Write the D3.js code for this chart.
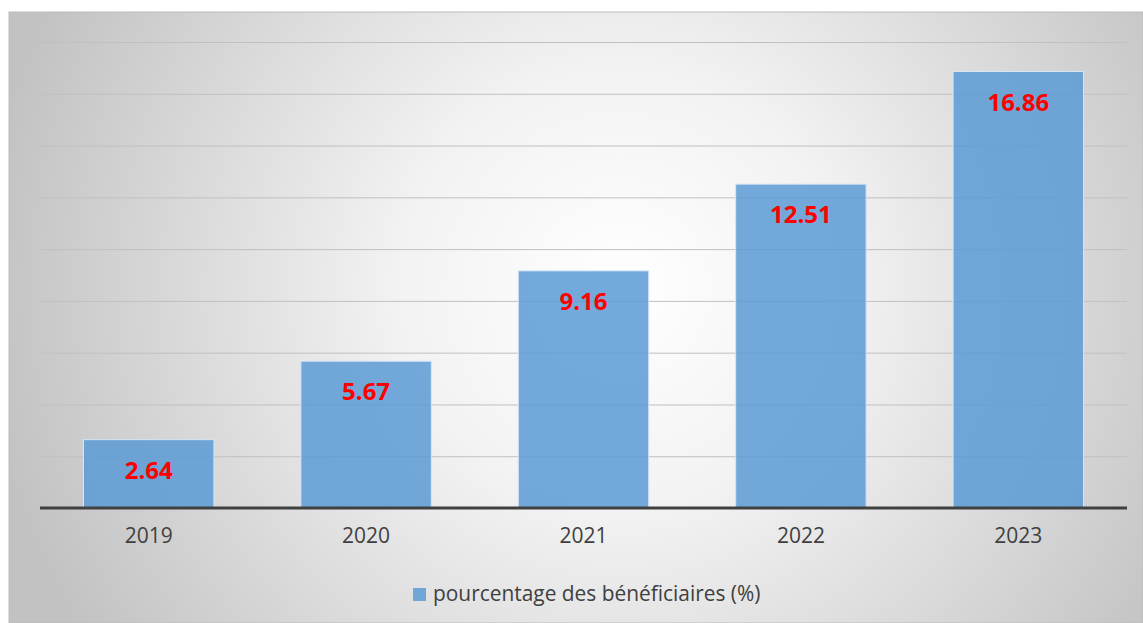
<!DOCTYPE html>
<html lang="fr">
<head>
<meta charset="utf-8">
<title>Pourcentage des bénéficiaires</title>
<script src="https://d3js.org/d3.v7.min.js"></script>
<style>
  body { margin: 0; background: #fff; }
  svg text { font-family: "Open Sans", "DejaVu Sans", sans-serif; }
  .grid line { stroke: #c0c0c0; stroke-width: 1; }
  .grid path { display: none; }
  .xaxis path, .xaxis line { display: none; }
  .xaxis text { fill: #404040; font-size: 21px; }
  .value { fill: #ff0000; font-size: 24px; font-weight: 700; }
  .legend text { fill: #404040; font-size: 20.9px; }
</style>
</head>
<body>
<script>
// data
var years = ["2019", "2020", "2021", "2022", "2023"];
var values = [2.64, 5.67, 9.16, 12.51, 16.86];
var yTicks = [0, 2, 4, 6, 8, 10, 12, 14, 16, 18];
var seriesName = "pourcentage des bénéficiaires (%)";

var w = 1143, h = 623;
var plotLeft = 40, plotRight = 1127, plotTop = 42, plotBottom = 508;

var svg = d3.select("body").append("svg")
    .attr("width", w)
    .attr("height", h);

// background gradient
var defs = svg.append("defs");
var grad = defs.append("radialGradient")
    .attr("id", "bg")
    .attr("gradientUnits", "userSpaceOnUse")
    .attr("cx", 620).attr("cy", 290)
    .attr("r", 640);
grad.append("stop").attr("offset", "0%").attr("stop-color", "#ffffff");
grad.append("stop").attr("offset", "35%").attr("stop-color", "#f2f2f2");
grad.append("stop").attr("offset", "100%").attr("stop-color", "#c2c2c2");

svg.append("rect")
    .attr("x", 9).attr("y", 12)
    .attr("width", w - 9).attr("height", h - 12)
    .attr("fill", "url(#bg)")
    .attr("stroke", "#bcbcbc")
    .attr("stroke-width", 1);

var x = d3.scaleBand()
    .domain(years)
    .range([plotLeft, plotRight])
    .paddingInner(0.4)
    .paddingOuter(0.2);

var y = d3.scaleLinear()
    .domain([0, 18])
    .range([plotBottom, plotTop]);

// gridlines
svg.append("g")
    .attr("class", "grid")
    .attr("transform", "translate(" + plotLeft + ",0)")
    .call(d3.axisLeft(y).tickValues(yTicks.slice(1)).tickSize(-(plotRight - plotLeft)).tickFormat(""));

// bars
svg.selectAll(".bar")
    .data(values)
    .enter().append("rect")
    .attr("class", "bar")
    .attr("x", function(d, i) { return x(years[i]); })
    .attr("y", function(d) { return y(d); })
    .attr("width", x.bandwidth())
    .attr("height", function(d) { return y(0) - y(d); })
    .attr("fill", "#5b9bd5")
    .attr("fill-opacity", 0.85)
    .attr("stroke", "#d6e6f5")
    .attr("stroke-width", 1);

// value labels
svg.selectAll(".value")
    .data(values)
    .enter().append("text")
    .attr("class", "value")
    .attr("x", function(d, i) { return x(years[i]) + x.bandwidth() / 2; })
    .attr("y", function(d) { return y(d) + 39; })
    .attr("text-anchor", "middle")
    .text(function(d) { return d.toFixed(2); });

// baseline
svg.append("line")
    .attr("x1", plotLeft).attr("x2", plotRight)
    .attr("y1", y(0)).attr("y2", y(0))
    .attr("stroke", "#404040")
    .attr("stroke-width", 3);

// x axis
svg.append("g")
    .attr("class", "xaxis")
    .attr("transform", "translate(0," + plotBottom + ")")
    .call(d3.axisBottom(x).tickSize(0).tickPadding(20));

// legend
var legend = svg.append("g").attr("class", "legend");
legend.append("rect")
    .attr("x", 413).attr("y", 588)
    .attr("width", 13).attr("height", 13)
    .attr("fill", "#5b9bd5")
    .attr("fill-opacity", 0.85);
legend.append("text")
    .attr("x", 433).attr("y", 601)
    .text(seriesName);
</script>
</body>
</html>
